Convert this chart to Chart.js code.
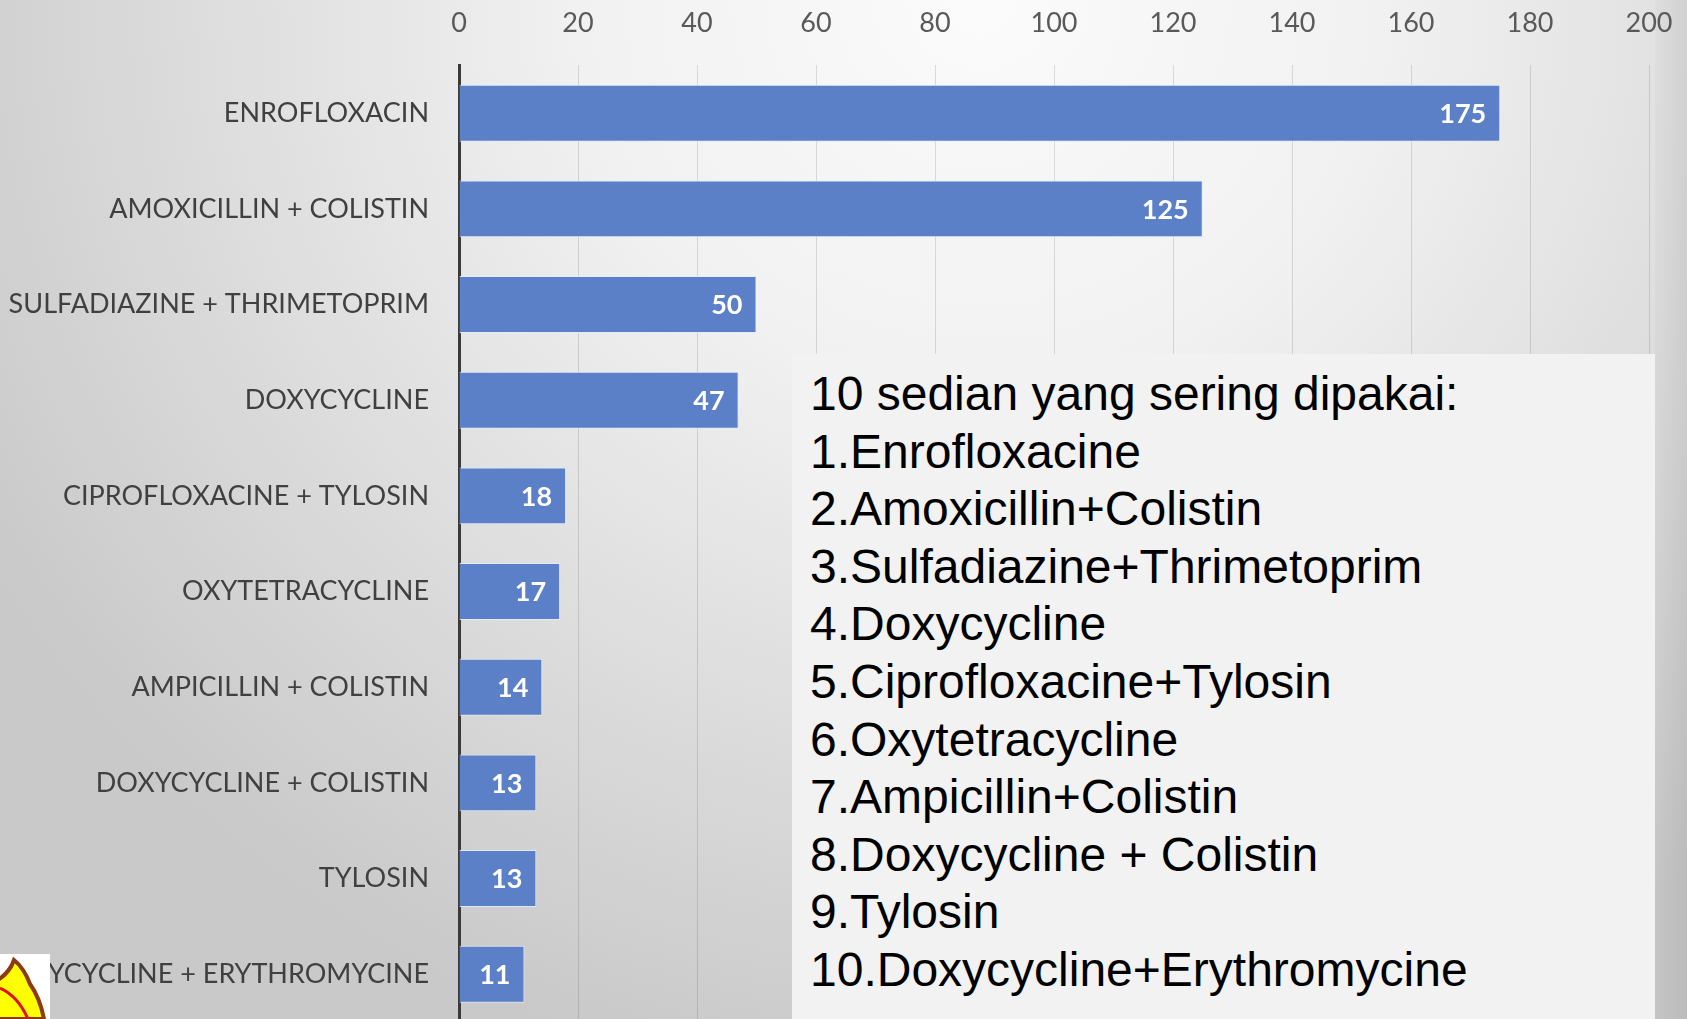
<!DOCTYPE html>
<html>
<head>
<meta charset="utf-8">
<script src="https://cdn.jsdelivr.net/npm/chart.js@4.4.1/dist/chart.umd.min.js"></script>
<style>
  html, body { margin: 0; padding: 0; width: 1687px; height: 1019px; overflow: hidden; }
  body {
    position: relative;
    background: radial-gradient(ellipse 1150px 1100px at 980px 0px, #fbfbfb 0%, #f1f1f1 35%, #dadada 72%, #c9c9c9 100%);
  }
  #wrap { position: absolute; left: 0; top: -27px; width: 1687px; height: 1052px; }
  #note {
    position: absolute; left: 792px; top: 354px; width: 863px; height: 665px;
    background: #f2f2f2; box-sizing: border-box; padding: 11px 0 0 18px;
    font-family: "Liberation Sans", Arial, sans-serif; font-size: 48px; line-height: 57.6px; color: #000;
  }
  #shade { position: absolute; left: 1655px; top: 0; width: 32px; height: 1019px;
    background: linear-gradient(to right, rgba(0,0,0,0.02), rgba(0,0,0,0.07)); }
  #logo { position: absolute; left: 0; top: 954px; width: 50px; height: 65px; background: #fff; }
</style>
</head>
<body>
<div id="shade"></div>
<div id="wrap"><canvas id="chart"></canvas></div>
<div id="note">
  <div>10 sedian yang sering dipakai:</div>
  <div>1.Enrofloxacine</div>
  <div>2.Amoxicillin+Colistin</div>
  <div>3.Sulfadiazine+Thrimetoprim</div>
  <div>4.Doxycycline</div>
  <div>5.Ciprofloxacine+Tylosin</div>
  <div>6.Oxytetracycline</div>
  <div>7.Ampicillin+Colistin</div>
  <div>8.Doxycycline + Colistin</div>
  <div>9.Tylosin</div>
  <div>10.Doxycycline+Erythromycine</div>
</div>
<svg id="logo" viewBox="0 0 50 65">
  <path d="M-2 26 Q10 18 14 6 Q24 14 30 30 Q40 44 44 65 L-2 65 Z" fill="#ffff00" stroke="#8b3a12" stroke-width="4"/>
  <path d="M0 34 Q18 42 28 65" fill="none" stroke="#e0101a" stroke-width="3"/>
</svg>
<script>
// données
const categories = [
  'ENROFLOXACIN',
  'AMOXICILLIN + COLISTIN',
  'SULFADIAZINE + THRIMETOPRIM',
  'DOXYCYCLINE',
  'CIPROFLOXACINE + TYLOSIN',
  'OXYTETRACYCLINE',
  'AMPICILLIN + COLISTIN',
  'DOXYCYCLINE + COLISTIN',
  'TYLOSIN',
  'DOXYCYCLINE + ERYTHROMYCINE'
];
const values = [175, 125, 50, 47, 18, 17, 14, 13, 13, 11];
const axisMax = 200;
const axisStep = 20;

// étiquettes blanches à l'intérieur des barres
const barLabels = {
  id: 'barLabels',
  afterDatasetsDraw(chart) {
    const ctx = chart.ctx;
    const meta = chart.getDatasetMeta(0);
    ctx.save();
    ctx.font = 'bold 27px Lato';
    ctx.fillStyle = '#ffffff';
    ctx.textAlign = 'right';
    ctx.textBaseline = 'middle';
    meta.data.forEach((bar, i) => {
      ctx.fillText(String(values[i]), bar.x - 14, bar.y + 1);
    });
    ctx.restore();
  }
};

const ctx = document.getElementById('chart').getContext('2d');
new Chart(ctx, {
  type: 'bar',
  data: {
    labels: categories,
    datasets: [{
      data: values,
      backgroundColor: '#5b80c8',
      borderColor: 'rgba(225,236,250,0.9)',
      borderWidth: 1,
      borderSkipped: 'start',
      barPercentage: 0.595,
      categoryPercentage: 1
    }]
  },
  options: {
    indexAxis: 'y',
    responsive: true,
    maintainAspectRatio: false,
    animation: false,
    layout: { padding: { left: 0, right: 38, top: 8, bottom: 3 } },
    plugins: { legend: { display: false }, tooltip: { enabled: false } },
    scales: {
      x: {
        position: 'top',
        min: 0,
        max: axisMax,
        ticks: { stepSize: axisStep, padding: 26, color: '#595959', font: { family: 'Lato', size: 27 } },
        grid: { color: 'rgba(0,0,0,0.12)', lineWidth: 1, drawTicks: false },
        border: { display: false },
        afterFit(scale) { scale.paddingLeft = 0; scale.paddingRight = 0; }
      },
      y: {
        ticks: { padding: 30, color: '#404040', font: { family: 'Lato', size: 27 } },
        grid: { display: false, drawTicks: false },
        border: { display: true, color: '#3a3a3a', width: 3 },
        afterFit(scale) { scale.width = 459; scale.paddingTop = 0; scale.paddingBottom = 0; }
      }
    }
  },
  plugins: [barLabels]
});
</script>
</body>
</html>
